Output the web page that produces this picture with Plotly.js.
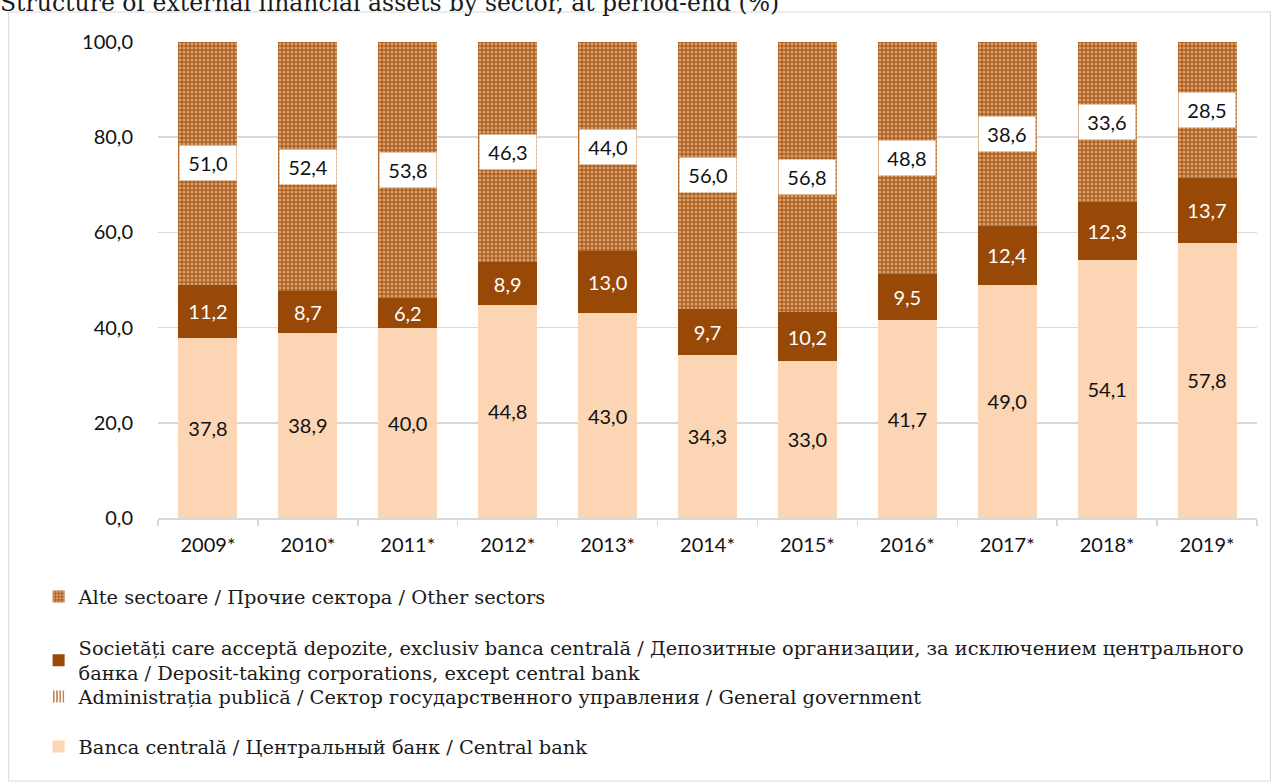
<!DOCTYPE html>
<html>
<head>
<meta charset="utf-8">
<script src="https://cdn.plot.ly/plotly-3.0.1.min.js"></script>
<style>
html,body{margin:0;padding:0;background:#fff;}
#chart{width:1272px;height:782px;}
</style>
</head>
<body>
<div id="chart"></div>
<script>
var years = ['2009*','2010*','2011*','2012*','2013*','2014*','2015*','2016*','2017*','2018*','2019*'];
var centralBank = [37.8,38.9,40.0,44.8,43.0,34.3,33.0,41.7,49.0,54.1,57.8];
var generalGov = [0,0,0,0,0,0,0,0,0,0,0];
var depositTaking = [11.2,8.7,6.2,8.9,13.0,9.7,10.2,9.5,12.4,12.3,13.7];
var otherSectors = [51.0,52.4,53.8,46.3,44.0,56.0,56.8,48.8,38.6,33.6,28.5];
var yTicks = [0,20,40,60,80,100];

var nameCB = 'Banca centrală / Центральный банк / Central bank';
var nameGG = 'Administrația publică / Сектор государственного управления / General government';
var nameDT = 'Societăți care acceptă depozite, exclusiv banca centrală / Депозитные организации, за исключением центрального<br>банка / Deposit-taking corporations, except central bank';
var nameOS = 'Alte sectoare / Прочие сектора / Other sectors';

var numFont = 'Lato, "Open Sans", sans-serif';
var serifFont = '"DejaVu Serif", "Liberation Serif", serif';

function fmt(v){ return v.toFixed(1).replace('.', ','); }

var traces = [
  {
    type:'bar', x:years, y:centralBank, name:nameCB, legend:'legend4',
    marker:{color:'#FCD5B5'},
    text:centralBank.map(fmt), textposition:'inside', insidetextanchor:'middle',
    textangle:0, constraintext:'none',
    textfont:{family:numFont, size:20, color:'#111'},
    hoverinfo:'y'
  },
  {
    type:'bar', x:years, y:generalGov, name:nameGG, legend:'legend3',
    marker:{color:'#FFFFFF', pattern:{shape:'|', fgcolor:'#B26A2E', size:4, solidity:0.4}},
    textposition:'none', hoverinfo:'y'
  },
  {
    type:'bar', x:years, y:depositTaking, name:nameDT, legend:'legend2',
    marker:{color:'#984807'},
    text:depositTaking.map(fmt), textposition:'inside', insidetextanchor:'middle',
    textangle:0, constraintext:'none',
    textfont:{family:numFont, size:20, color:'#FFFFFF'},
    hoverinfo:'y'
  },
  {
    type:'bar', x:years, y:otherSectors, name:nameOS, legend:'legend',
    marker:{color:'#B0601C', pattern:{shape:'.', fgcolor:'#F7E4D2', size:4, solidity:0.45, fillmode:'overlay'}},
    textposition:'none', hoverinfo:'y'
  }
];

var annotations = years.map(function(yr, i){
  return {
    x: yr, xref:'x',
    y: centralBank[i] + generalGov[i] + depositTaking[i] + otherSectors[i]/2, yref:'y',
    text: fmt(otherSectors[i]), showarrow:false,
    bgcolor:'#FFFFFF', width:52, height:30, borderpad:2,
    font:{family:numFont, size:20, color:'#111'}
  };
});

function pxX(px){ return (px-157.5)/1100; }
function pxY(py){ return (518-py)/476; }

var legendBase = {
  bgcolor:'rgba(0,0,0,0)', borderwidth:0,
  font:{family:serifFont, size:19.4, color:'#1a1a1a'},
  xanchor:'left', yanchor:'middle', x:pxX(38)
};
function L(py){ var o = JSON.parse(JSON.stringify(legendBase)); o.y = pxY(py); return o; }

var layout = {
  width:1272, height:782,
  margin:{l:157.5, r:14.5, t:42, b:264, pad:0},
  paper_bgcolor:'#FFFFFF', plot_bgcolor:'#FFFFFF',
  separators:', ',
  barmode:'stack', bargap:0.41,
  title:{
    text:'Structure of external financial assets by sector, at period-end (%)',
    font:{family:serifFont, size:23.5, color:'#1a1a1a'},
    x:0, xref:'container', xanchor:'left',
    y:0.996, yref:'container', yanchor:'middle', pad:{l:0,t:0}
  },
  xaxis:{
    type:'category', tickson:'boundaries', ticks:'outside', ticklen:6,
    tickcolor:'#D9D9D9', tickwidth:1.5,
    showline:true, linecolor:'#D9D9D9', linewidth:1.5,
    showgrid:false, zeroline:false,
    tickfont:{family:numFont, size:20, color:'#111'},
    ticklabelstandoff:8, fixedrange:true
  },
  yaxis:{
    range:[0,100], tickvals:yTicks, ticktext:yTicks.map(fmt),
    showgrid:true, gridcolor:'#D9D9D9', gridwidth:1.5,
    zeroline:false, showline:false, ticks:'',
    tickfont:{family:numFont, size:20, color:'#111'},
    ticklabelstandoff:24, fixedrange:true
  },
  legend:L(597),
  legend2:L(660.5),
  legend3:L(697),
  legend4:L(747),
  annotations:annotations,
  shapes:[{
    type:'rect', xref:'paper', yref:'paper',
    x0:pxX(8), x1:pxX(1271), y0:pxY(781), y1:pxY(12),
    line:{color:'#D9D9D9', width:1}, fillcolor:'rgba(0,0,0,0)', layer:'below'
  }],
  showlegend:true
};

Plotly.newPlot('chart', traces, layout, {displayModeBar:false, staticPlot:true});
</script>
</body>
</html>
